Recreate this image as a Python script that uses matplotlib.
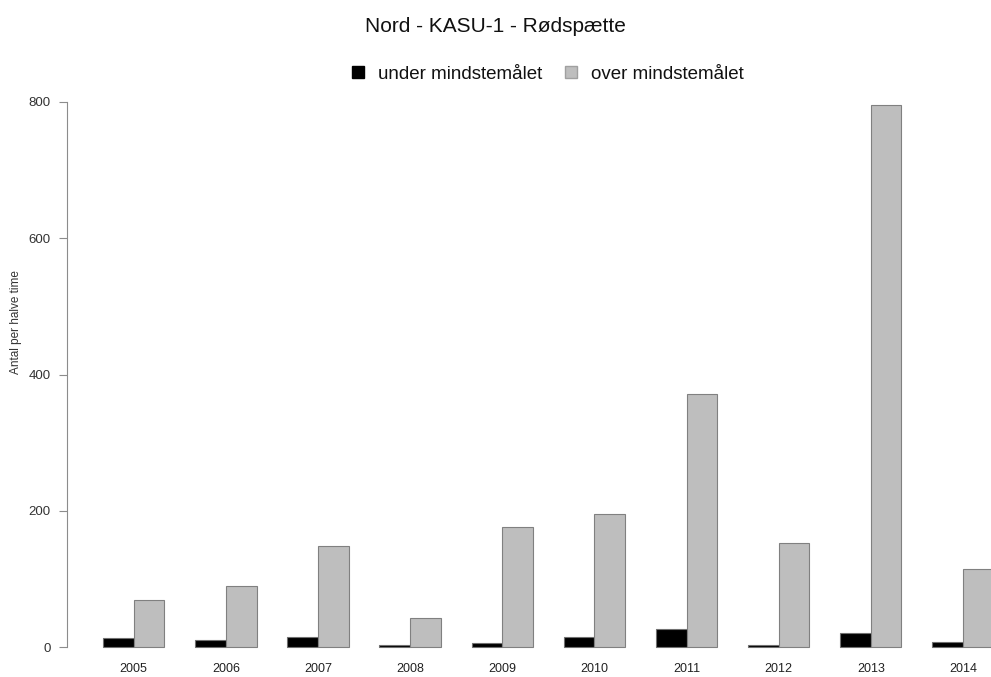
import matplotlib
matplotlib.use("Agg")
import matplotlib.pyplot as plt
from matplotlib.lines import Line2D
import numpy as np

plt.rcParams['font.family'] = ['Liberation Sans', 'DejaVu Sans']

years = ['2005', '2006', '2007', '2008', '2009', '2010', '2011', '2012', '2013', '2014']
under = [13, 11, 15, 3, 6, 14, 26, 3, 21, 8]
over = [69, 90, 148, 42, 176, 195, 371, 153, 796, 114]

title = 'Nord - KASU-1 - Rødspætte'
ylabel = 'Antal per halve time'
legend_labels = ['under mindstemålet', 'over mindstemålet']

W, H = 991, 677
fig = plt.figure(figsize=(W / 100, H / 100), dpi=100)

# R barplot style: groups of two bars, one unit of space before each group
x0_px, unit_px = 72.3, 30.71
y0_px, yunit_px = 647, 545 / 800
xlim = (-0.17, 31.2)
ylim = (-32, 828)
left_px = x0_px + xlim[0] * unit_px
right_px = x0_px + xlim[1] * unit_px
bot_px = y0_px - ylim[0] * yunit_px
top_px = y0_px - ylim[1] * yunit_px
ax = fig.add_axes([left_px / W, 1 - bot_px / H,
                   (right_px - left_px) / W, (bot_px - top_px) / H])

idx = np.arange(len(years))
x_under = 1 + 3 * idx
x_over = 2 + 3 * idx
ax.bar(x_under, under, width=1, align='edge', color='black',
       edgecolor='#707070', linewidth=0.8)
ax.bar(x_over, over, width=1, align='edge', color='#bebebe',
       edgecolor='#808080', linewidth=0.8)

ax.set_xlim(*xlim)
ax.set_ylim(*ylim)

for s in ['top', 'right', 'bottom']:
    ax.spines[s].set_visible(False)
ax.spines['left'].set_bounds(0, 800)
ax.spines['left'].set_color('#8c8c8c')
ax.spines['left'].set_linewidth(0.8)
ax.set_yticks([0, 200, 400, 600, 800])
ax.tick_params(axis='y', length=6, width=0.8, color='#8c8c8c',
               labelsize=9.5, labelcolor='#333333', pad=6)
ax.set_xticks([])

for i, yr in enumerate(years):
    ax.text(x_over[i], (y0_px - 669) / yunit_px, yr, ha='center', va='center',
            fontsize=9, color='#222222', clip_on=False)

fig.text(16 / W, 1 - 322 / H, ylabel, rotation=90, ha='center', va='center',
         fontsize=8.5, color='#333333')
fig.text(495 / W, 1 - 27 / H, title, ha='center', va='center',
         fontsize=15, color='#111111')

handles = [
    Line2D([], [], linestyle='none', marker='s', markersize=9,
           markerfacecolor='black', markeredgecolor='black'),
    Line2D([], [], linestyle='none', marker='s', markersize=9,
           markerfacecolor='#bebebe', markeredgecolor='#a0a0a0'),
]
fig.legend(handles, legend_labels, loc='center', bbox_to_anchor=(546 / W, 1 - 74 / H),
           ncol=2, frameon=False, fontsize=13.5, handlelength=1.0,
           handletextpad=0.6, columnspacing=1.0, labelcolor='#111111')

fig.savefig('out.png', dpi=100, facecolor='white')
